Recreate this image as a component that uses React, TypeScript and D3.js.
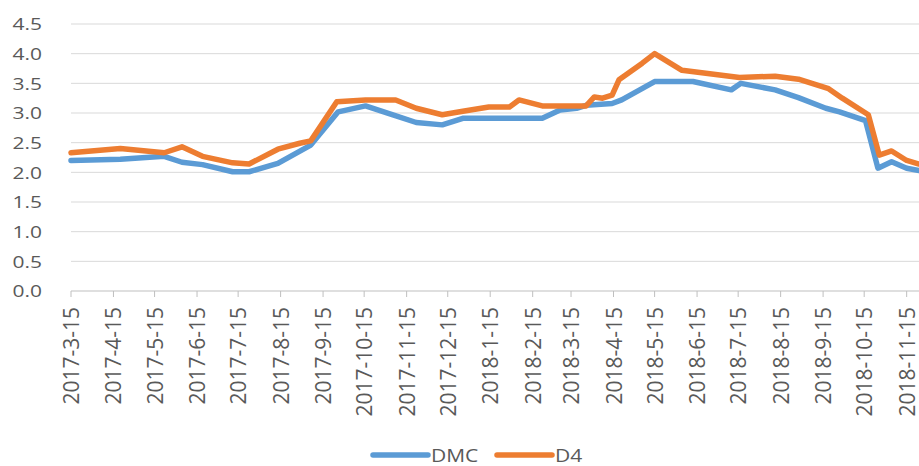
import React from "react";
import * as d3 from "d3";

const dmcDates = ["2017-03-15","2017-04-20","2017-05-22","2017-06-04","2017-06-19","2017-07-11","2017-07-23","2017-08-13","2017-09-06","2017-09-26","2017-10-16","2017-11-05","2017-11-22","2017-12-11","2017-12-26","2018-02-22","2018-03-07","2018-03-19","2018-03-26","2018-04-14","2018-04-21","2018-05-15","2018-06-12","2018-07-10","2018-07-17","2018-08-11","2018-08-28","2018-09-17","2018-09-27","2018-10-16","2018-10-25","2018-11-04","2018-11-15","2018-11-24"];
const dmcValues = [2.20,2.22,2.27,2.17,2.13,2.01,2.01,2.15,2.46,3.02,3.12,2.97,2.84,2.80,2.91,2.91,3.05,3.08,3.13,3.16,3.22,3.53,3.53,3.39,3.50,3.39,3.26,3.08,3.02,2.87,2.07,2.18,2.07,2.03];

const d4Dates = ["2017-03-15","2017-04-20","2017-05-22","2017-06-04","2017-06-19","2017-07-11","2017-07-23","2017-08-13","2017-08-29","2017-09-06","2017-09-25","2017-10-16","2017-11-07","2017-11-22","2017-12-11","2017-12-26","2018-01-14","2018-01-29","2018-02-05","2018-02-22","2018-03-26","2018-04-01","2018-04-07","2018-04-14","2018-04-19","2018-05-06","2018-05-15","2018-06-04","2018-07-16","2018-08-11","2018-08-28","2018-09-19","2018-09-29","2018-10-18","2018-10-26","2018-11-04","2018-11-15","2018-11-24"];
const d4Values = [2.33,2.40,2.33,2.43,2.27,2.16,2.14,2.39,2.49,2.53,3.19,3.22,3.22,3.08,2.97,3.03,3.10,3.10,3.22,3.12,3.12,3.27,3.25,3.30,3.56,3.84,4.00,3.72,3.60,3.62,3.57,3.41,3.25,2.97,2.29,2.36,2.20,2.14];

const tickLabels = ["2017-3-15","2017-4-15","2017-5-15","2017-6-15","2017-7-15","2017-8-15","2017-9-15","2017-10-15","2017-11-15","2017-12-15","2018-1-15","2018-2-15","2018-3-15","2018-4-15","2018-5-15","2018-6-15","2018-7-15","2018-8-15","2018-9-15","2018-10-15","2018-11-15"];
const yTicks = [0, 0.5, 1, 1.5, 2, 2.5, 3, 3.5, 4, 4.5];
const seriesNames = ["DMC", "D4"];
const colors = ["#5B9BD5", "#ED7D31"];

const parse = d3.timeParse("%Y-%m-%d");
const parseTick = (s: string) => {
  const [y, m, d] = s.split("-").map(Number);
  return new Date(y, m - 1, d);
};

export default function App() {
  const W = 919, H = 466;
  const x = d3.scaleTime()
    .domain([parse("2017-03-15") as Date, parse("2018-11-24") as Date])
    .range([71, 919]);
  const y = d3.scaleLinear().domain([0, 4.5]).range([291, 24]);
  const line = d3.line<[Date, number]>().x(d => x(d[0])).y(d => y(d[1]));
  const series = [
    dmcDates.map((d, i) => [parse(d) as Date, dmcValues[i]] as [Date, number]),
    d4Dates.map((d, i) => [parse(d) as Date, d4Values[i]] as [Date, number]),
  ];
  const font = "'Open Sans', 'DejaVu Sans', sans-serif";
  const textColor = "#595959";

  return (
    <svg width={W} height={H} style={{ position: "absolute", left: 0, top: 0, background: "#fff" }} fontFamily={font}>
      {yTicks.map(t => (
        <g key={t}>
          {t > 0 && <line x1={71} x2={919} y1={y(t)} y2={y(t)} stroke="#D9D9D9" strokeWidth={1} />}
          <text
            transform={`translate(42,${y(t)}) scale(1,0.74)`}
            textAnchor="end"
            dominantBaseline="central"
            fontSize={21}
            fill={textColor}
          >{t.toFixed(1)}</text>
        </g>
      ))}
      <line x1={71} x2={919} y1={y(0)} y2={y(0)} stroke="#BFBFBF" strokeWidth={1} />
      {tickLabels.map(s => {
        const xp = x(parseTick(s));
        return (
          <g key={s}>
            <line x1={xp} x2={xp} y1={y(0)} y2={y(0) + 6} stroke="#BFBFBF" strokeWidth={1} />
            <text
              transform={`translate(${xp},307) rotate(-90)`}
              textAnchor="end"
              dominantBaseline="central"
              fontSize={21}
              fill={textColor}
            >{s}</text>
          </g>
        );
      })}
      {series.map((s, i) => (
        <path key={i} d={line(s) || ""} fill="none" stroke={colors[i]} strokeWidth={5.5} strokeLinejoin="round" strokeLinecap="round" />
      ))}
      {seriesNames.map((n, i) => {
        const lx = i === 0 ? 373 : 497;
        return (
          <g key={n}>
            <line x1={lx} x2={lx + 55} y1={455} y2={455} stroke={colors[i]} strokeWidth={5.5} strokeLinecap="round" />
            <text
              transform={`translate(${lx + 58},455) scale(1,0.88)`}
              dominantBaseline="central"
              fontSize={21}
              fill={textColor}
            >{n}</text>
          </g>
        );
      })}
    </svg>
  );
}
